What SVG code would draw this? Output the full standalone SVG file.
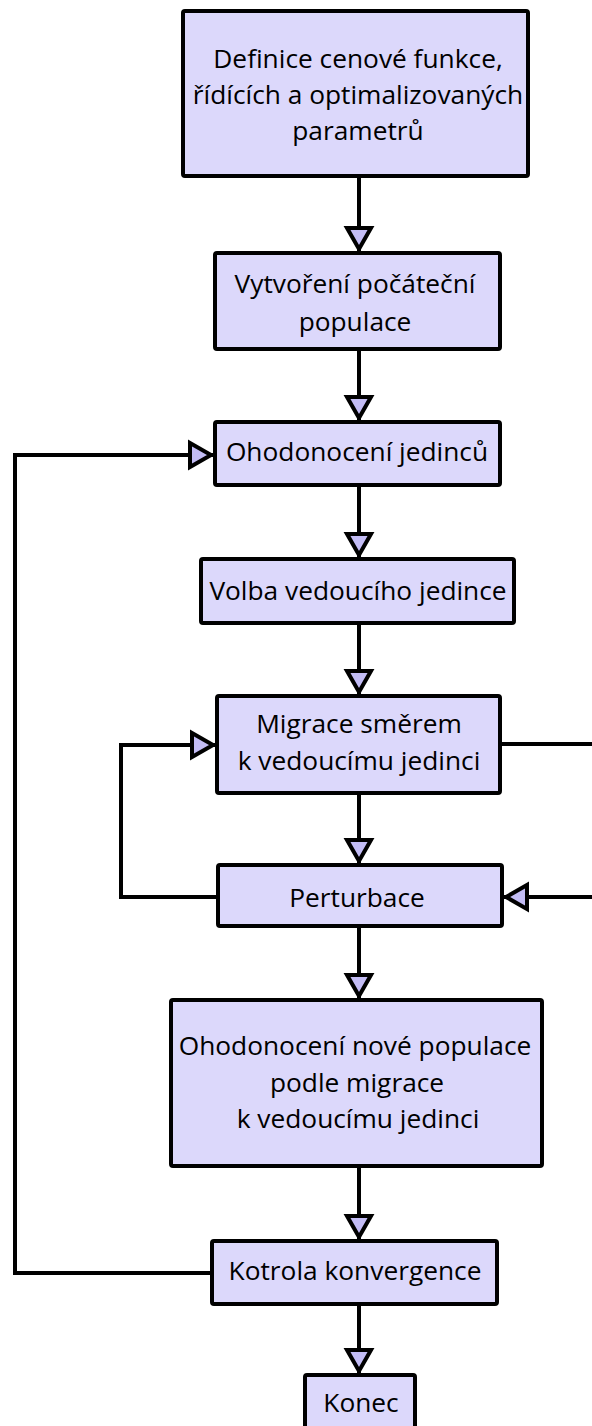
<svg xmlns="http://www.w3.org/2000/svg" width="592" height="1426" viewBox="0 0 592 1426">
<style>
.box{fill:#dcd8fb;stroke:#000;stroke-width:4;}
.lbl{font-family:"Open Sans","Noto Sans","Liberation Sans",sans-serif;font-size:26.3px;fill:#000;text-anchor:middle;}
.con{fill:none;stroke:#000;stroke-width:4;marker-end:url(#arr);}
.con2{fill:none;stroke:#000;stroke-width:4;}
</style>
<defs>
<marker id="arr" markerUnits="userSpaceOnUse" orient="auto" refX="0" refY="0" markerWidth="40" markerHeight="40" viewBox="-30 -20 40 40" overflow="visible">
<path d="M-23,-12 L-2,0 L-23,12 Z" fill="#c3bcf5" stroke="#000" stroke-width="4" stroke-linejoin="miter"/>
</marker>
</defs>
<rect width="592" height="1426" fill="#fff"/>
<g id="connectors">
<path class="con" d="M359,176 V251"/>
<path class="con" d="M359,349 V420"/>
<path class="con" d="M359,485 V557"/>
<path class="con" d="M359,623 V694"/>
<path class="con" d="M359,793 V863"/>
<path class="con" d="M359,926 V998"/>
<path class="con" d="M359,1166 V1239"/>
<path class="con" d="M359,1304 V1373"/>
<path class="con" d="M212,1273 H15 V455 H213"/>
<path class="con" d="M218,897 H121 V745 H215"/>
<path class="con2" d="M500,744 H600"/>
<path class="con" d="M600,897 H504"/>
</g>
<g id="n1"><rect class="box" x="183" y="11" width="345" height="165" rx="2"/>
<text class="lbl" x="358" y="68">Definice cenové funkce,</text>
<text class="lbl" x="358" y="104">řídících a optimalizovaných</text>
<text class="lbl" x="358" y="140">parametrů</text></g>
<g id="n2"><rect class="box" x="215" y="253" width="285" height="96" rx="2"/>
<text class="lbl" x="355" y="293">Vytvoření počáteční</text>
<text class="lbl" x="355" y="331">populace</text></g>
<g id="n3"><rect class="box" x="215" y="422" width="285" height="63" rx="2"/>
<text class="lbl" x="357" y="461">Ohodonocení jedinců</text></g>
<g id="n4"><rect class="box" x="201" y="559" width="313" height="64" rx="2"/>
<text class="lbl" x="358" y="600">Volba vedoucího jedince</text></g>
<g id="n5"><rect class="box" x="217" y="696" width="283" height="97" rx="2"/>
<text class="lbl" x="359" y="733">Migrace směrem</text>
<text class="lbl" x="359" y="770">k vedoucímu jedinci</text></g>
<g id="n6"><rect class="box" x="218" y="865" width="284" height="61" rx="2"/>
<text class="lbl" x="357" y="907">Perturbace</text></g>
<g id="n7"><rect class="box" x="171" y="1000" width="371" height="166" rx="2"/>
<text class="lbl" x="355" y="1055">Ohodonocení nové populace</text>
<text class="lbl" x="357" y="1092">podle migrace</text>
<text class="lbl" x="358" y="1128">k vedoucímu jedinci</text></g>
<g id="n8"><rect class="box" x="212" y="1241" width="285" height="63" rx="2"/>
<text class="lbl" x="355" y="1280">Kotrola konvergence</text></g>
<g id="n9"><rect class="box" x="305" y="1375" width="110" height="70" rx="2"/>
<text class="lbl" x="361" y="1412">Konec</text></g>
</svg>
